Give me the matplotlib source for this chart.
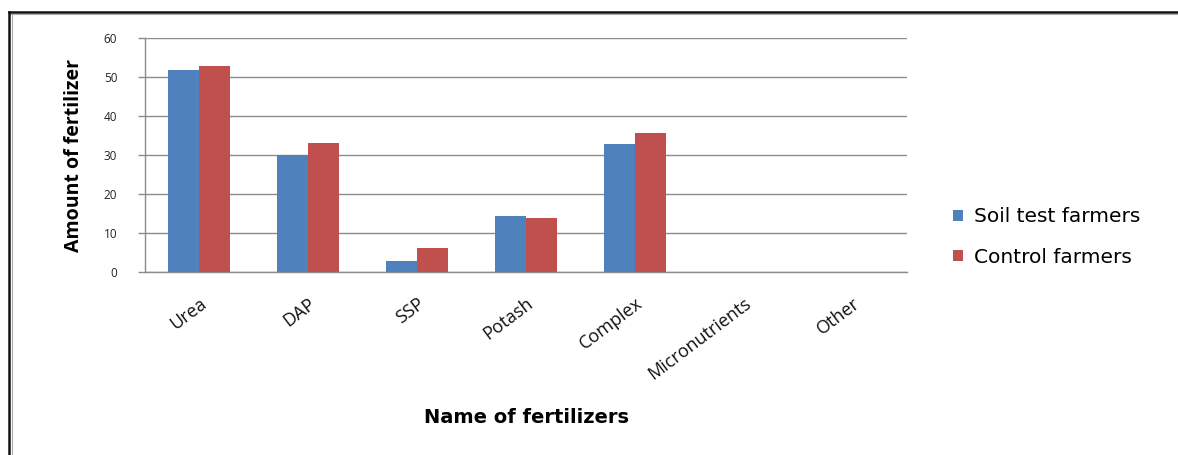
import numpy as np
import matplotlib
matplotlib.use("Agg")
import matplotlib.pyplot as plt
from matplotlib.lines import Line2D

fertilizers = ["Urea", "DAP", "SSP", "Potash", "Complex", "Micronutrients", "Other"]
soil_test = [52.0, 30.0, 2.7, 14.3, 32.9, 0, 0]
control = [53.0, 33.2, 6.1, 13.9, 35.7, 0, 0]
y_ticks = [0, 10, 20, 30, 40, 50, 60]

BLUE = "#4F81BD"
RED = "#C0504D"
GRID = "#8c8c8c"
WIDE = ["DejaVu Sans"]

plt.rcParams["font.family"] = ["Open Sans", "DejaVu Sans"]

fig = plt.figure(figsize=(11.78, 4.55), dpi=100)
ax = fig.add_axes([0.1231, 0.4022, 0.6469, 0.5132])

x = np.arange(len(fertilizers))
w = 0.285
ax.bar(x - w / 2, soil_test, width=w, color=BLUE, label="Soil test farmers", zorder=3)
ax.bar(x + w / 2, control, width=w, color=RED, label="Control farmers", zorder=3)

ax.set_xlim(-0.5, len(fertilizers) - 0.5)
ax.set_ylim(0, 60)
ax.set_yticks(y_ticks)
ax.set_yticklabels([str(v) for v in y_ticks], fontsize=8.5, color="#222222")
ax.set_xticks(x)
ax.set_xticklabels(fertilizers, rotation=37, ha="right", rotation_mode="anchor",
                   fontsize=13, color="#111111")
ax.tick_params(axis="x", length=0, pad=16)
ax.tick_params(axis="y", length=5, width=1, color=GRID, pad=15)
ax.yaxis.grid(True, color=GRID, linewidth=1, zorder=0)
for side in ["top", "right"]:
    ax.spines[side].set_visible(False)
for side in ["left", "bottom"]:
    ax.spines[side].set_color(GRID)
    ax.spines[side].set_linewidth(1)

ax.set_ylabel("Amount of fertilizer", fontsize=14, fontweight="bold", labelpad=14)
ax.set_xlabel("Name of fertilizers", family=WIDE, fontsize=14, fontweight="bold",
              labelpad=18)

ax.legend(loc="center left", bbox_to_anchor=(1.036, 0.15), frameon=False,
          prop={"family": WIDE, "size": 14.5}, handlelength=0.5, handleheight=0.5,
          handletextpad=0.55, labelspacing=1.05)

# outer frame: dark edge with a light grey inner line
fig.add_artist(Line2D([9 / 1178, 1.0], [1 - 12 / 455] * 2, transform=fig.transFigure,
                      color="#111111", linewidth=1.8))
fig.add_artist(Line2D([9 / 1178, 1.0], [1 - 14 / 455] * 2, transform=fig.transFigure,
                      color="#aaaaaa", linewidth=0.8))
fig.add_artist(Line2D([9 / 1178] * 2, [0, 1 - 12 / 455], transform=fig.transFigure,
                      color="#111111", linewidth=1.8))
fig.add_artist(Line2D([12 / 1178] * 2, [0, 1 - 14 / 455], transform=fig.transFigure,
                      color="#aaaaaa", linewidth=0.8))

fig.savefig("out.png", dpi=100)
